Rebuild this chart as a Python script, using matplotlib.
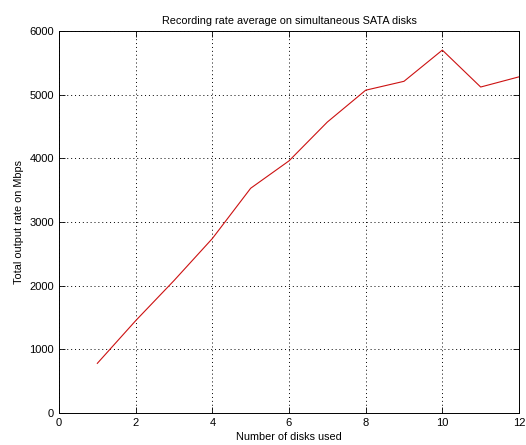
import matplotlib
matplotlib.use("Agg")
import matplotlib.pyplot as plt

# Values
disks = [1, 2, 3, 4, 5, 6, 7, 8, 9, 10, 11, 12]
rate_mbps = [780, 1450, 2080, 2740, 3530, 3960, 4570, 5070, 5210, 5700, 5120, 5280]
x_ticks = [0, 2, 4, 6, 8, 10, 12]
y_ticks = [0, 1000, 2000, 3000, 4000, 5000, 6000]

plt.rcParams['font.family'] = ['Liberation Sans', 'DejaVu Sans']

fig = plt.figure(figsize=(5.26, 4.45), dpi=100)
ax = fig.add_axes([59 / 526, 32 / 445, 460 / 526, 382 / 445])

ax.plot(disks, rate_mbps, color="#cc1111", linewidth=0.8)

ax.set_xlim(0, 12)
ax.set_ylim(0, 6000)
ax.set_xticks(x_ticks)
ax.set_yticks(y_ticks)
ax.grid(True, color="black", linestyle=(0, (1, 3)), linewidth=0.7)
ax.tick_params(direction="in", top=True, right=True, labelsize=8, length=4, width=0.6)
for s in ax.spines.values():
    s.set_linewidth(0.7)

ax.set_title("Recording rate average on simultaneous SATA disks", fontsize=7.8, pad=5)
ax.set_xlabel("Number of disks used", fontsize=7.8, labelpad=3)
ax.set_ylabel("Total output rate on Mbps", fontsize=7.8, labelpad=4)

fig.savefig("out.png", dpi=100)
